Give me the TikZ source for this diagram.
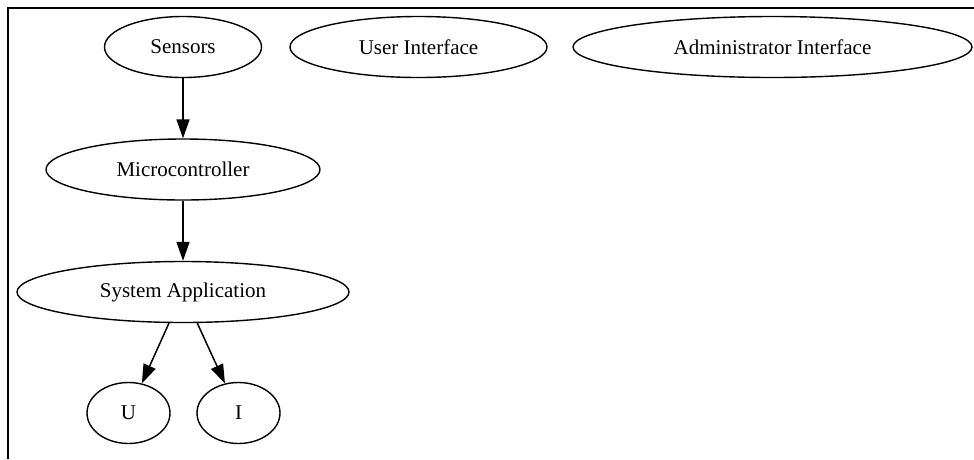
\documentclass[tikz,border=0pt]{standalone}
\usepackage{fontspec}
\setmainfont{Liberation Serif}
\usetikzlibrary{shapes.geometric,arrows.meta}
\begin{document}
\begin{tikzpicture}[x=1pt,y=-1pt,
  ell/.style={draw=black,line width=1.4pt,ellipse,inner sep=0pt,
    font=\fontsize{21}{25}\selectfont,text=black},
  arr/.style={draw=black,line width=1.5pt,-{Triangle[length=19pt,width=13pt]}},
  frameline/.style={draw=black,line width=2pt}]
\useasboundingbox (0,0) rectangle (974,459);
\coordinate (fl) at (8,459);
\coordinate (fc) at (8,8);
\coordinate (fr) at (975,8);
\draw[frameline] (fl) -- (fc) -- (fr);
\node[ell,minimum width=157pt,minimum height=61pt] (sens) at (183,47) {Sensors};
\node[ell,minimum width=257pt,minimum height=61pt] (ui) at (418.5,47) {User Interface};
\node[ell,minimum width=399pt,minimum height=61pt] (ai) at (772.5,47) {Administrator Interface};
\node[ell,minimum width=274pt,minimum height=61pt] (micro) at (183,169.5) {Microcontroller};
\node[ell,minimum width=332pt,minimum height=61pt] (sys) at (183,292) {System Application};
\node[ell,minimum width=83pt,minimum height=61pt] (u) at (128.5,413) {U};
\node[ell,minimum width=83pt,minimum height=61pt] (i) at (238.5,413) {I};
\draw[arr] (sens) -- (micro);
\draw[arr] (micro) -- (sys);
\draw[arr] (sys) -- (u);
\draw[arr] (sys) -- (i);
\end{tikzpicture}
\end{document}
